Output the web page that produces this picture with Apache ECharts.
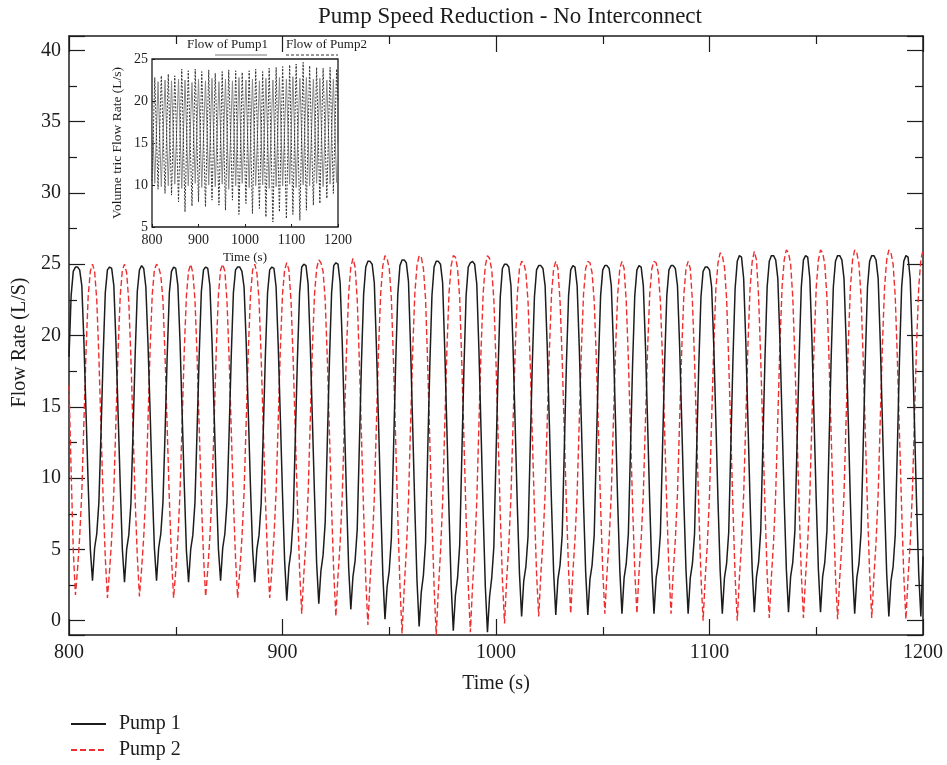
<!DOCTYPE html>
<html>
<head>
<meta charset="utf-8">
<script src="https://cdn.jsdelivr.net/npm/echarts@6/dist/echarts.min.js"></script>
<style>
  html, body { margin: 0; padding: 0; background: #fff; }
  #chart { width: 947px; height: 765px; }
</style>
</head>
<body>
<div id="chart"></div>
<script>
// Flow readings, one sample per second from t = 800 s to t = 1200 s
const startTime = 800;

// Pump 1 flow rate (L/s)
const pump1Flow = [
  18.5, 22.8, 24.5, 24.8, 24.8, 24.6, 23.5, 19.5, 14.5, 9.5,
  5.0, 2.8, 5.1, 6.1, 8.3, 13.2, 18.6, 23.0, 24.6, 24.8,
  24.7, 23.5, 19.5, 14.5, 9.5, 5.0, 2.7, 5.0, 6.0, 8.2,
  13.3, 18.7, 23.1, 24.6, 24.9, 24.7, 23.4, 19.4, 14.6, 9.4,
  5.1, 2.8, 5.1, 6.1, 8.3, 13.2, 18.6, 23.0, 24.5, 24.8,
  24.7, 23.5, 19.6, 14.5, 9.5, 4.9, 2.7, 5.0, 6.0, 8.3,
  13.4, 18.7, 23.1, 24.6, 24.8, 24.7, 23.5, 19.5, 14.4, 9.4,
  5.0, 2.8, 5.1, 6.1, 8.3, 13.2, 18.6, 23.0, 24.6, 24.8,
  24.8, 24.5, 23.4, 19.5, 14.5, 9.4, 5.0, 2.7, 5.0, 6.0,
  8.2, 13.3, 18.7, 23.0, 24.6, 24.8, 24.7, 23.4, 19.3, 14.2,
  8.9, 4.2, 1.4, 3.8, 4.9, 7.2, 12.8, 18.4, 23.0, 24.8,
  25.0, 24.9, 23.6, 19.4, 14.1, 8.8, 4.0, 1.2, 3.5, 4.6,
  6.9, 12.6, 18.3, 23.0, 24.9, 25.1, 25.0, 23.7, 19.4, 14.0,
  8.6, 3.7, 0.8, 3.1, 4.2, 6.4, 12.3, 18.2, 22.9, 24.8,
  25.2, 25.2, 25.0, 23.7, 19.2, 13.8, 8.2, 3.2, 0.1, 2.4,
  3.5, 5.8, 12.0, 18.0, 22.9, 24.9, 25.3, 25.3, 25.1, 23.8,
  19.1, 13.5, 7.8, 2.8, -0.4, 2.0, 3.2, 5.5, 11.8, 17.9,
  22.8, 24.8, 25.2, 25.2, 25.0, 23.7, 19.0, 13.4, 7.6, 2.5,
  -0.7, 1.8, 3.0, 5.3, 11.6, 17.8, 22.8, 24.8, 25.1, 25.2,
  25.0, 23.6, 19.0, 13.3, 7.5, 2.4, -0.8, 1.7, 3.0, 5.2,
  11.5, 17.7, 22.7, 24.7, 25.0, 25.0, 24.8, 23.5, 19.1, 13.6,
  8.0, 3.3, 0.3, 2.8, 3.8, 5.9, 12.0, 18.0, 22.7, 24.6,
  24.9, 24.9, 24.7, 23.5, 19.2, 13.8, 8.2, 3.4, 0.4, 2.9,
  3.9, 6.0, 12.1, 18.1, 22.8, 24.6, 24.9, 24.8, 23.5, 19.2,
  13.8, 8.2, 3.4, 0.4, 2.9, 3.9, 6.0, 12.1, 18.1, 22.8,
  24.6, 24.9, 24.9, 24.7, 23.5, 19.3, 13.9, 8.3, 3.5, 0.5,
  3.0, 4.0, 6.1, 12.1, 18.1, 22.8, 24.6, 24.9, 24.8, 23.5,
  19.3, 13.9, 8.3, 3.5, 0.5, 3.0, 4.0, 6.1, 12.1, 18.1,
  22.8, 24.6, 24.9, 24.9, 24.7, 23.5, 19.3, 13.9, 8.3, 3.5,
  0.5, 3.0, 4.0, 6.1, 12.1, 18.0, 22.7, 24.5, 24.8, 24.8,
  24.6, 23.4, 19.3, 13.9, 8.3, 3.5, 0.5, 3.0, 4.0, 6.2,
  12.3, 18.4, 23.3, 25.2, 25.6, 25.5, 24.0, 19.6, 14.0, 8.4,
  3.6, 0.6, 3.1, 4.1, 6.3, 12.4, 18.5, 23.4, 25.2, 25.6,
  25.6, 25.3, 24.0, 19.6, 14.0, 8.4, 3.6, 0.6, 3.1, 4.1,
  6.3, 12.4, 18.5, 23.4, 25.3, 25.6, 25.5, 24.0, 19.6, 14.0,
  8.4, 3.6, 0.6, 3.1, 4.1, 6.3, 12.4, 18.5, 23.4, 25.2,
  25.6, 25.6, 25.3, 24.0, 19.6, 14.0, 8.3, 3.5, 0.5, 3.0,
  4.0, 6.2, 12.3, 18.4, 23.4, 25.2, 25.6, 25.6, 25.3, 24.0,
  19.5, 13.9, 8.2, 3.3, 0.3, 2.8, 3.8, 6.0, 12.2, 18.4,
  23.4, 25.2, 25.6, 25.5, 24.0, 19.5, 13.9, 8.2, 3.3, 0.3,
  4.5
];

// Pump 2 flow rate (L/s)
const pump2Flow = [
  16.5, 10.5, 5.0, 1.8, 3.6, 5.9, 9.0, 14.0, 19.0, 22.8,
  24.5, 25.0, 24.5, 22.5, 18.5, 13.5, 8.5, 4.4, 1.6, 3.5,
  5.8, 9.1, 14.1, 19.0, 22.8, 24.6, 25.0, 24.4, 22.4, 18.4,
  13.4, 8.4, 4.5, 1.7, 3.6, 5.9, 9.0, 14.0, 19.1, 22.9,
  24.6, 25.0, 24.8, 24.2, 22.5, 18.5, 13.5, 8.5, 4.4, 1.6,
  3.5, 5.8, 9.0, 14.0, 19.0, 22.8, 24.5, 25.0, 24.4, 22.5,
  18.5, 13.5, 8.5, 4.5, 1.7, 3.6, 5.9, 9.1, 14.1, 19.1,
  22.9, 24.6, 25.0, 24.5, 22.4, 18.4, 13.4, 8.4, 4.4, 1.6,
  3.5, 5.8, 9.0, 14.0, 19.0, 22.8, 24.6, 25.0, 24.4, 22.5,
  18.5, 13.5, 8.5, 4.4, 1.6, 3.5, 5.9, 9.0, 14.0, 19.1,
  22.9, 24.6, 25.1, 24.6, 22.4, 18.3, 13.2, 8.1, 3.6, 0.5,
  3.3, 5.6, 8.9, 14.0, 19.1, 22.9, 24.7, 25.3, 25.1, 24.5,
  22.5, 18.3, 13.1, 7.9, 3.4, 0.3, 3.2, 5.5, 8.8, 14.0,
  19.1, 23.0, 24.8, 25.4, 24.8, 22.5, 18.2, 12.9, 7.6, 2.9,
  -0.3, 2.8, 5.2, 8.6, 13.9, 19.1, 23.0, 24.9, 25.6, 25.4,
  24.7, 22.6, 18.1, 12.7, 7.3, 2.5, -0.9, 2.3, 4.9, 8.4,
  13.8, 19.0, 23.0, 24.9, 25.6, 25.5, 24.7, 22.6, 18.0, 12.6,
  7.2, 2.4, -1.0, 2.2, 4.8, 8.3, 13.7, 19.0, 23.0, 24.9,
  25.6, 25.5, 24.7, 22.6, 18.0, 12.6, 7.2, 2.5, -0.8, 2.4,
  4.9, 8.4, 13.8, 19.0, 23.0, 24.9, 25.6, 25.4, 24.6, 22.5,
  18.1, 12.8, 7.5, 2.9, -0.2, 2.9, 5.3, 8.7, 13.9, 19.0,
  22.9, 24.7, 25.2, 25.1, 24.4, 22.4, 18.2, 13.0, 7.8, 3.3,
  0.3, 3.3, 5.6, 8.9, 14.0, 19.0, 22.9, 24.7, 25.2, 24.7,
  22.4, 18.3, 13.2, 8.0, 3.5, 0.5, 3.4, 5.7, 8.9, 14.0,
  19.0, 22.9, 24.7, 25.2, 25.1, 24.4, 22.4, 18.3, 13.2, 8.0,
  3.5, 0.5, 3.4, 5.7, 8.9, 14.0, 19.0, 22.9, 24.7, 25.2,
  24.7, 22.4, 18.3, 13.2, 8.0, 3.5, 0.5, 3.4, 5.7, 8.9,
  14.0, 19.0, 22.9, 24.7, 25.2, 25.1, 24.4, 22.4, 18.3, 13.2,
  8.0, 3.5, 0.5, 3.4, 5.7, 8.9, 14.0, 19.0, 22.9, 24.7,
  25.2, 24.7, 22.4, 18.2, 13.0, 7.8, 3.1, 0.0, 3.0, 5.4,
  8.8, 14.1, 19.3, 23.3, 25.1, 25.8, 25.6, 24.8, 22.6, 18.2,
  13.0, 7.8, 3.1, 0.0, 3.0, 5.4, 8.8, 14.1, 19.3, 23.3,
  25.2, 25.9, 25.3, 22.7, 18.3, 13.1, 7.9, 3.3, 0.2, 3.1,
  5.5, 8.9, 14.2, 19.4, 23.4, 25.3, 26.0, 25.8, 25.0, 22.7,
  18.3, 13.1, 7.9, 3.3, 0.2, 3.1, 5.5, 8.9, 14.2, 19.4,
  23.4, 25.3, 26.0, 25.8, 25.0, 22.7, 18.3, 13.0, 7.8, 3.2,
  0.1, 3.0, 5.4, 8.9, 14.2, 19.4, 23.4, 25.3, 26.0, 25.8,
  25.0, 22.7, 18.3, 13.1, 7.9, 3.3, 0.2, 3.1, 5.5, 8.9,
  14.2, 19.4, 23.4, 25.3, 26.0, 25.8, 25.0, 22.7, 18.3, 13.0,
  7.8, 3.2, 0.1, 3.0, 5.4, 8.9, 14.2, 19.4, 23.4, 25.3,
  26.0
];

// Inset: volumetric flow turning points [time (s), flow (L/s)]
const insetPump1 = [
  [800, 19.0], [806, 10.2], [813, 22.3], [820, 9.8], [828, 22.5], [835, 9.9], [842, 22.4], [849, 10.1],
  [857, 22.6], [864, 9.6], [871, 22.5], [878, 9.9], [886, 22.2], [893, 10.2], [900, 22.6], [907, 9.7],
  [915, 22.4], [922, 10.0], [929, 22.7], [936, 9.8], [944, 22.3], [951, 10.1], [958, 22.6], [965, 9.5],
  [973, 22.4], [980, 9.9], [987, 22.8], [994, 10.2], [1002, 22.5], [1009, 9.7], [1016, 22.6], [1023, 9.9],
  [1031, 22.4], [1038, 10.0], [1045, 22.7], [1052, 9.6], [1060, 22.5], [1067, 9.8], [1074, 22.8], [1081, 9.9],
  [1089, 22.6], [1096, 10.1], [1103, 22.9], [1110, 9.7], [1118, 22.7], [1125, 10.0], [1132, 22.8], [1139, 9.9],
  [1147, 22.6], [1154, 10.2], [1161, 22.7], [1168, 9.8], [1176, 22.5], [1183, 10.1], [1190, 22.6], [1197, 10.3],
  [1200, 15.0]
];
const insetPump2 = [
  [800, 10.5], [806, 22.8], [813, 9.5], [820, 23.0], [828, 9.0], [835, 23.2], [842, 8.8], [849, 23.0],
  [857, 8.0], [864, 23.8], [871, 6.8], [878, 23.6], [886, 7.5], [893, 23.8], [900, 8.0], [907, 23.5],
  [915, 7.4], [922, 23.7], [929, 8.2], [936, 23.3], [944, 7.6], [951, 23.5], [958, 7.0], [965, 23.7],
  [973, 8.2], [980, 23.6], [987, 6.5], [994, 23.4], [1002, 7.8], [1009, 23.6], [1016, 6.6], [1023, 23.8],
  [1031, 7.2], [1038, 23.5], [1045, 6.2], [1052, 23.9], [1060, 5.6], [1067, 24.0], [1074, 6.8], [1081, 24.1],
  [1089, 6.0], [1096, 24.3], [1103, 6.5], [1110, 24.4], [1118, 5.8], [1125, 24.6], [1132, 7.0], [1139, 24.2],
  [1147, 7.6], [1154, 24.0], [1161, 7.8], [1168, 23.9], [1176, 8.4], [1183, 24.0], [1190, 9.0], [1197, 23.8],
  [1200, 20.0]
];

const xTicks = { min: 800, max: 1200, interval: 100 };
const insetYTicks = { min: 5, max: 25, interval: 5 };

const FONT = "'Liberation Serif', 'DejaVu Serif', serif";
const INK = '#1c1c1c';
const RED = '#ee2f2f';

const withTime = arr => arr.map((v, i) => [startTime + i, v]);
const plain = v => String(v);

const chart = echarts.init(document.getElementById('chart'), null, { renderer: 'canvas' });

const frameLine = { show: true, onZero: false, lineStyle: { color: INK, width: 1.5 } };
const majorTick = { show: true, inside: true, length: 16, lineStyle: { color: INK, width: 1.2 } };
const minorTick = { show: true, splitNumber: 2, length: 8, lineStyle: { color: INK, width: 1.2 } };

const option = {
  animation: false,
  backgroundColor: '#fff',
  title: {
    text: 'Pump Speed Reduction - No Interconnect',
    left: 510,
    top: 5,
    padding: 0,
    textAlign: 'center',
    textStyle: { fontFamily: FONT, fontSize: 23, fontWeight: 'normal', color: INK }
  },
  legend: {
    orient: 'vertical',
    left: 65,
    top: 709,
    itemWidth: 35,
    itemHeight: 14,
    itemGap: 6,
    itemStyle: { opacity: 0 },
    data: ['Pump 1', 'Pump 2'],
    textStyle: { fontFamily: FONT, fontSize: 20, color: INK, padding: [0, 0, 0, 8] }
  },
  grid: [
    { left: 69, right: 24, top: 36, bottom: 130, containLabel: false },
    { left: 152, top: 59, width: 186, height: 168, show: true, borderColor: INK, borderWidth: 1.3 }
  ],
  xAxis: [
    {
      type: 'value', gridIndex: 0, position: 'bottom',
      min: xTicks.min, max: xTicks.max, interval: xTicks.interval,
      axisLine: frameLine, axisTick: majorTick, minorTick: minorTick,
      splitLine: { show: false },
      axisLabel: { fontFamily: FONT, fontSize: 20, color: INK, margin: 8, formatter: plain },
      name: 'Time (s)', nameLocation: 'middle', nameGap: 39,
      nameTextStyle: { fontFamily: FONT, fontSize: 20, color: INK }
    },
    {
      type: 'value', gridIndex: 0, position: 'top',
      min: xTicks.min, max: xTicks.max, interval: xTicks.interval,
      axisLine: frameLine, axisTick: majorTick, minorTick: minorTick,
      splitLine: { show: false }, axisLabel: { show: false }
    },
    {
      type: 'value', gridIndex: 1, position: 'bottom',
      min: xTicks.min, max: xTicks.max, interval: xTicks.interval,
      axisLine: { show: false, onZero: false },
      axisTick: { show: true, inside: true, length: 3, lineStyle: { color: INK } },
      splitLine: { show: false },
      axisLabel: { fontFamily: FONT, fontSize: 14, color: INK, margin: 6, formatter: plain },
      name: 'Time (s)', nameLocation: 'middle', nameGap: 24,
      nameTextStyle: { fontFamily: FONT, fontSize: 13, color: INK }
    }
  ],
  yAxis: [
    {
      type: 'value', gridIndex: 0, position: 'left',
      min: -1, max: 41, splitNumber: 8,
      axisLine: frameLine, axisTick: majorTick, minorTick: minorTick,
      splitLine: { show: false },
      axisLabel: {
        fontFamily: FONT, fontSize: 20, color: INK, margin: 8,
        showMinLabel: false, showMaxLabel: false,
        formatter: v => (v % 5 === 0 ? String(v) : '')
      },
      name: 'Flow Rate (L/S)', nameLocation: 'middle', nameGap: 38,
      nameTextStyle: { fontFamily: FONT, fontSize: 20, color: INK, padding: [0, 0, 0, -14] }
    },
    {
      type: 'value', gridIndex: 0, position: 'right',
      min: -1, max: 41, splitNumber: 8,
      axisLine: frameLine, axisTick: majorTick, minorTick: minorTick,
      splitLine: { show: false }, axisLabel: { show: false }
    },
    {
      type: 'value', gridIndex: 1, position: 'left',
      min: insetYTicks.min, max: insetYTicks.max, interval: insetYTicks.interval,
      axisLine: { show: false, onZero: false },
      axisTick: { show: true, inside: true, length: 3, lineStyle: { color: INK } },
      splitLine: { show: false },
      axisLabel: { fontFamily: FONT, fontSize: 14, color: INK, margin: 4 },
      name: 'Volume tric Flow Rate (L/s)', nameLocation: 'middle', nameGap: 28,
      nameTextStyle: { fontFamily: FONT, fontSize: 13.5, color: INK }
    }
  ],
  series: [
    {
      name: 'Pump 1', type: 'line', xAxisIndex: 0, yAxisIndex: 0,
      data: withTime(pump1Flow), showSymbol: false, symbol: 'none',
      lineStyle: { color: INK, width: 1.5 }, itemStyle: { color: INK }, z: 3
    },
    {
      name: 'Pump 2', type: 'line', xAxisIndex: 0, yAxisIndex: 0,
      data: withTime(pump2Flow), showSymbol: false, symbol: 'none',
      lineStyle: { color: RED, width: 1.4, type: [6, 3] }, itemStyle: { color: RED }, z: 2
    },
    {
      name: 'Flow of Pump1', type: 'line', xAxisIndex: 2, yAxisIndex: 2,
      data: insetPump1, showSymbol: false, symbol: 'none',
      lineStyle: { color: '#8a8a8a', width: 1 }
    },
    {
      name: 'Flow of Pump2', type: 'line', xAxisIndex: 2, yAxisIndex: 2,
      data: insetPump2, showSymbol: false, symbol: 'none',
      lineStyle: { color: '#333', width: 1, type: [2, 1.5] }
    }
  ],
  graphic: [
    { type: 'text', left: 187, top: 38, style: { text: 'Flow of Pump1', font: "13px 'Liberation Serif', serif", fill: INK } },
    { type: 'line', shape: { x1: 215, y1: 55, x2: 267, y2: 55 }, style: { stroke: '#777', lineWidth: 1 } },
    { type: 'text', left: 286, top: 38, style: { text: 'Flow of Pump2', font: "13px 'Liberation Serif', serif", fill: INK } },
    { type: 'line', shape: { x1: 286, y1: 55, x2: 338, y2: 55 }, style: { stroke: '#333', lineWidth: 1, lineDash: [3, 2] } }
  ]
};

chart.setOption(option);
</script>
</body>
</html>
